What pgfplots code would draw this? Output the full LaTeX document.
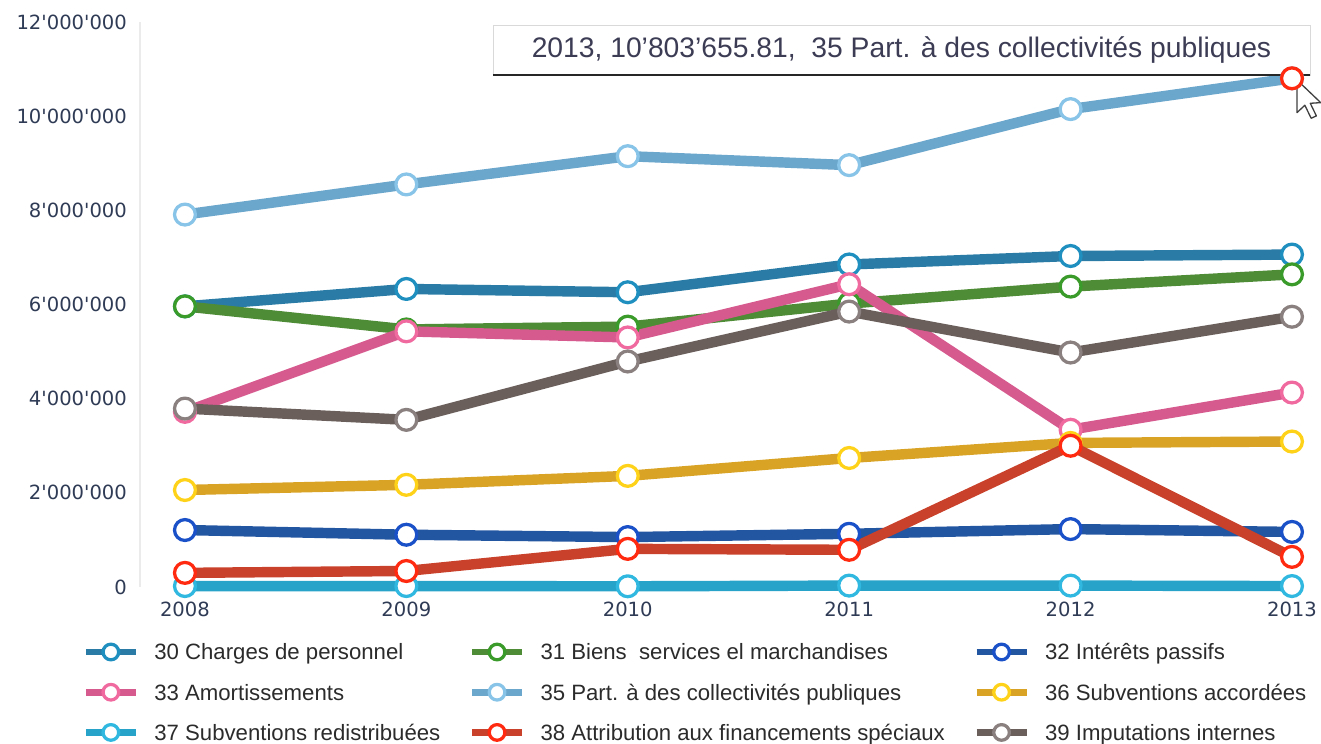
\documentclass[border=0pt]{standalone}
\usepackage{fontspec}
\setmainfont{Liberation Sans}
\newfontfamily\tickfont{DejaVu Sans}
\usepackage{pgfplots}
\pgfplotsset{compat=1.18}

\definecolor{cA}{HTML}{2A7CA6}\definecolor{rA}{HTML}{1F8FC0}
\definecolor{cB}{HTML}{4E8C36}\definecolor{rB}{HTML}{3A9A2A}
\definecolor{cC}{HTML}{2356A0}\definecolor{rC}{HTML}{1A50C8}
\definecolor{cD}{HTML}{D65A8E}\definecolor{rD}{HTML}{F06AA0}
\definecolor{cE}{HTML}{6BA6CC}\definecolor{rE}{HTML}{88C4E8}
\definecolor{cF}{HTML}{D9A326}\definecolor{rF}{HTML}{FFD21A}
\definecolor{cG}{HTML}{27A3C9}\definecolor{rG}{HTML}{30B8E0}
\definecolor{cH}{HTML}{C9412A}\definecolor{rH}{HTML}{FF2A10}
\definecolor{cI}{HTML}{6B5F5C}\definecolor{rI}{HTML}{8A8080}
\definecolor{ticktxt}{HTML}{2F3B55}
\definecolor{legtxt}{HTML}{2B2B2B}
\definecolor{tiptxt}{HTML}{3C3C55}

\pgfplotsset{
  ser/.style 2 args={color=#1, line width=4.8pt, line join=round, mark=*,
    mark size=4.8pt, mark options={fill=white, draw=#2, line width=1.5pt, solid}},
}

\begin{document}
\begin{tikzpicture}
\begin{axis}[
  name=ax,
  scale only axis,
  width=540.5pt, height=259.9pt,
  xmin=2007.797, xmax=2013.104,
  ymin=0, ymax=12000000,
  clip=false,
  axis y line*=left, axis x line*=bottom,
  x axis line style={draw=none},
  y axis line style={draw=black!8, line width=0.8pt},
  major tick length=0pt,
  xtick={2008,2009,2010,2011,2012,2013},
  xticklabels={2008,2009,2010,2011,2012,2013},
  ytick={0,2000000,4000000,6000000,8000000,10000000,12000000},
  yticklabels={0,2'000'000,4'000'000,6'000'000,8'000'000,10'000'000,12'000'000},
  scaled y ticks=false,
  xticklabel style={font=\tickfont\fontsize{9}{10}\selectfont, text=ticktxt, yshift=-3.4pt},
  yticklabel style={font=\tickfont\fontsize{9}{10}\selectfont, text=ticktxt, xshift=-2.5pt},
  legend columns=3,
  legend image code/.code={\draw[mark repeat=2,mark phase=2,#1,line width=3.2pt,mark size=3.6pt] plot coordinates {(0pt,0pt)(11.5pt,0pt)(23pt,0pt)};},
  legend style={at={(0,0)}, anchor=north west, xshift=-26.5pt, yshift=-24.5pt,
    draw=none, fill=none, inner sep=0pt, outer sep=0pt,
    font=\fontsize{10.2}{12}\selectfont, text=legtxt,
    nodes={inner sep=0pt, text height=9pt, text depth=1.8pt},
    row sep=7.7pt,
    /tikz/every odd column/.append style={column sep=6.9pt},
    /tikz/every even column/.append style={column sep=13pt}},
  legend cell align=left,
]
\addplot[ser={cA}{rA}] coordinates {(2008,5960000)(2009,6330000)(2010,6260000)(2011,6850000)(2012,7030000)(2013,7060000)};
\addlegendentry{30 Charges de personnel}
\addplot[ser={cB}{rB}] coordinates {(2008,5960000)(2009,5470000)(2010,5530000)(2011,6020000)(2012,6380000)(2013,6640000)};
\addlegendentry{31 Biens\ \ services el marchandises}
\addplot[ser={cC}{rC}] coordinates {(2008,1210000)(2009,1110000)(2010,1060000)(2011,1130000)(2012,1230000)(2013,1170000)};
\addlegendentry{32 Intérêts passifs}
\addplot[ser={cD}{rD}] coordinates {(2008,3720000)(2009,5430000)(2010,5300000)(2011,6430000)(2012,3340000)(2013,4130000)};
\addlegendentry{33 Amortissements}
\addplot[ser={cE}{rE}] coordinates {(2008,7910000)(2009,8550000)(2010,9150000)(2011,8960000)(2012,10150000)(2013,10803655.81)};
\addlegendentry{35 Part. à des collectivités publiques}
\addplot[ser={cF}{rF}] coordinates {(2008,2060000)(2009,2170000)(2010,2360000)(2011,2740000)(2012,3060000)(2013,3090000)};
\addlegendentry{36 Subventions accordées}
\addplot[ser={cG}{rG}] coordinates {(2008,20000)(2009,20000)(2010,15000)(2011,30000)(2012,30000)(2013,20000)};
\addlegendentry{37 Subventions redistribuées}
\addplot[ser={cH}{rH}] coordinates {(2008,300000)(2009,340000)(2010,810000)(2011,790000)(2012,3000000)(2013,640000)};
\addlegendentry{38 Attribution aux financements spéciaux}
\addplot[ser={cI}{rI}] coordinates {(2008,3790000)(2009,3550000)(2010,4790000)(2011,5850000)(2012,4980000)(2013,5740000)};
\addlegendentry{39 Imputations internes}

\draw[draw=black!15, fill=white] (rel axis cs:0.3004,0.906) rectangle (rel axis cs:0.9957,0.9947);
\draw[line width=1.2pt, black!85] (rel axis cs:0.3004,0.906) -- (rel axis cs:0.9957,0.906);
\node[font=\fontsize{13}{15}\selectfont, text=tiptxt] at (rel axis cs:0.6481,0.9503) {2013, 10'803'655.81,\ \ 35 Part. à des collectivités publiques};

\addplot[forget plot, only marks, mark=*, mark size=4.8pt, mark options={fill=white, draw=rH, line width=1.5pt}] coordinates {(2013,10803655.81)};

\draw[fill=white, draw=black!75, line width=0.6pt, line join=round] (rel axis cs:0.9847,0.8973) -- ++(0pt,-15pt) -- ++(3.6pt,3.4pt) -- ++(2.9pt,-6pt) -- ++(2.4pt,1.1pt) -- ++(-2.8pt,5.8pt) -- ++(4.8pt,0.3pt) -- cycle;
\end{axis}
\pgfresetboundingbox
\path[use as bounding box] ([xshift=-64.4pt,yshift=-72.2pt]ax.south west) rectangle ([xshift=2.76pt,yshift=10.12pt]ax.north east);
\end{tikzpicture}
\end{document}
